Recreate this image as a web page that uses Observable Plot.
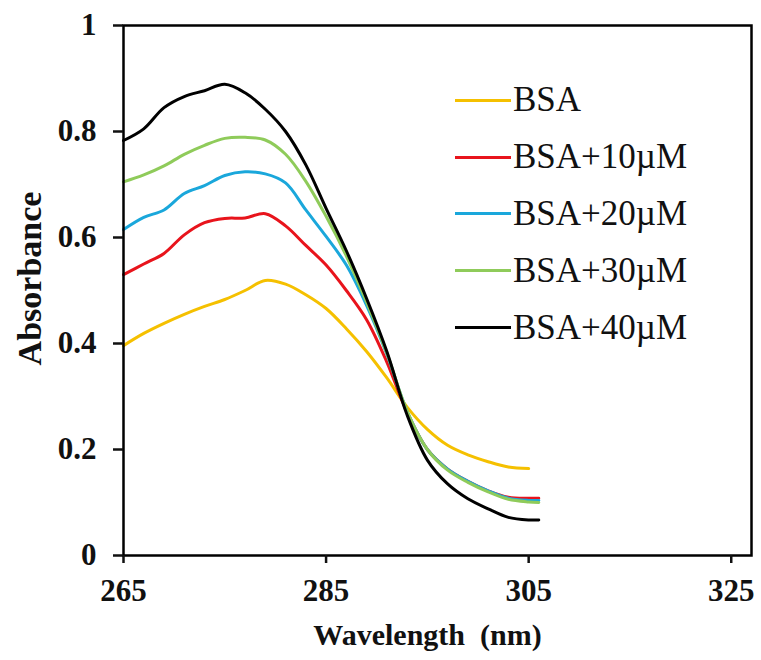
<!DOCTYPE html>
<html>
<head>
<meta charset="utf-8">
<script src="https://cdn.jsdelivr.net/npm/d3@7"></script>
<script src="https://cdn.jsdelivr.net/npm/@observablehq/plot@0.6"></script>
<style>
  html, body { margin: 0; padding: 0; background: #fff; }
  #wrap { position: relative; width: 761px; height: 660px; }
  #legend { position: absolute; left: 455px; top: 72px; font-family: "Liberation Serif", "Times New Roman", serif; font-size: 35px; color: #111; }
  .row { height: 56.8px; display: flex; align-items: center; }
  .sw { display: inline-block; width: 56px; height: 3px; margin-right: 2px; }
</style>
</head>
<body>
<div id="wrap"><div id="legend"></div></div>
<script>
const wavelength = [265, 267, 269, 271, 273, 275, 277, 279, 281, 283, 285, 287, 289, 291, 293, 295, 297, 299, 301, 303, 305, 306];
const seriesNames = ["BSA", "BSA+10\u00b5M", "BSA+20\u00b5M", "BSA+30\u00b5M", "BSA+40\u00b5M"];
const seriesColors = ["#F5C000", "#E8141C", "#1AA7DB", "#8FCB5A", "#000000"];
const bsa    = [0.396, 0.419, 0.438, 0.455, 0.470, 0.483, 0.500, 0.519, 0.512, 0.492, 0.466, 0.428, 0.385, 0.335, 0.280, 0.238, 0.208, 0.190, 0.177, 0.167, 0.164, null];
const bsa10  = [0.530, 0.550, 0.570, 0.605, 0.628, 0.636, 0.637, 0.645, 0.622, 0.585, 0.548, 0.500, 0.445, 0.365, 0.270, 0.200, 0.163, 0.140, 0.122, 0.110, 0.108, 0.108];
const bsa20  = [0.615, 0.638, 0.652, 0.683, 0.698, 0.717, 0.724, 0.720, 0.703, 0.652, 0.602, 0.548, 0.472, 0.380, 0.272, 0.200, 0.163, 0.140, 0.122, 0.108, 0.104, 0.104];
const bsa30  = [0.705, 0.718, 0.735, 0.757, 0.774, 0.787, 0.789, 0.784, 0.757, 0.706, 0.640, 0.565, 0.478, 0.382, 0.272, 0.200, 0.161, 0.138, 0.120, 0.106, 0.101, 0.100];
const bsa40  = [0.783, 0.805, 0.845, 0.866, 0.877, 0.889, 0.873, 0.842, 0.800, 0.737, 0.655, 0.575, 0.485, 0.385, 0.265, 0.180, 0.135, 0.107, 0.088, 0.072, 0.067, 0.067];
const yTicks = [0, 0.2, 0.4, 0.6, 0.8, 1];
const xTicks = [265, 285, 305, 325];

const allSeries = [bsa, bsa10, bsa20, bsa30, bsa40];
const rows = [];
allSeries.forEach((vals, i) => {
  vals.forEach((v, j) => {
    if (v != null) rows.push({ series: seriesNames[i], wl: wavelength[j], abs: v });
  });
});

const font = '"Liberation Serif", "Times New Roman", serif';
const chart = Plot.plot({
  width: 761,
  height: 660,
  marginLeft: 123,
  marginRight: 10,
  marginTop: 25,
  marginBottom: 105,
  style: { fontFamily: font, background: "transparent", color: "#111" },
  x: { domain: [265, 327], ticks: xTicks },
  y: { domain: [0, 1], ticks: yTicks },
  color: { domain: seriesNames, range: seriesColors },
  marks: [
    Plot.line(rows, { x: "wl", y: "abs", z: "series", stroke: "series", strokeWidth: 3, curve: "catmull-rom" }),
    Plot.frame({ stroke: "#000", strokeWidth: 2.5 }),
    Plot.axisY({ ticks: yTicks, tickSize: 10, tickPadding: 17, tickFormat: d => String(d), fontSize: 31, fontWeight: "bold", strokeWidth: 2.5, label: null }),
    Plot.axisX({ ticks: xTicks, tickSize: 8, tickPadding: 15, tickFormat: d => String(d), fontSize: 31, fontWeight: "bold", strokeWidth: 2.5, label: null }),
    Plot.text(["Wavelength  (nm)"], { frameAnchor: "bottom", dx: -10, dy: 80, text: d => d, fontSize: 30, fontWeight: "bold", lineAnchor: "middle", textAnchor: "middle", fill: "#111" }),
    Plot.text(["Absorbance"], { frameAnchor: "left", dx: -93, dy: -12, rotate: -90, text: d => d, fontSize: 34, fontWeight: "bold", lineAnchor: "middle", textAnchor: "middle", fill: "#111" })
  ]
});
document.getElementById("wrap").prepend(chart);

const legend = document.getElementById("legend");
seriesNames.forEach((name, i) => {
  const row = document.createElement("div");
  row.className = "row";
  const sw = document.createElement("span");
  sw.className = "sw";
  sw.style.background = seriesColors[i];
  const t = document.createElement("span");
  t.textContent = name;
  row.appendChild(sw);
  row.appendChild(t);
  legend.appendChild(row);
});
</script>
</body>
</html>
